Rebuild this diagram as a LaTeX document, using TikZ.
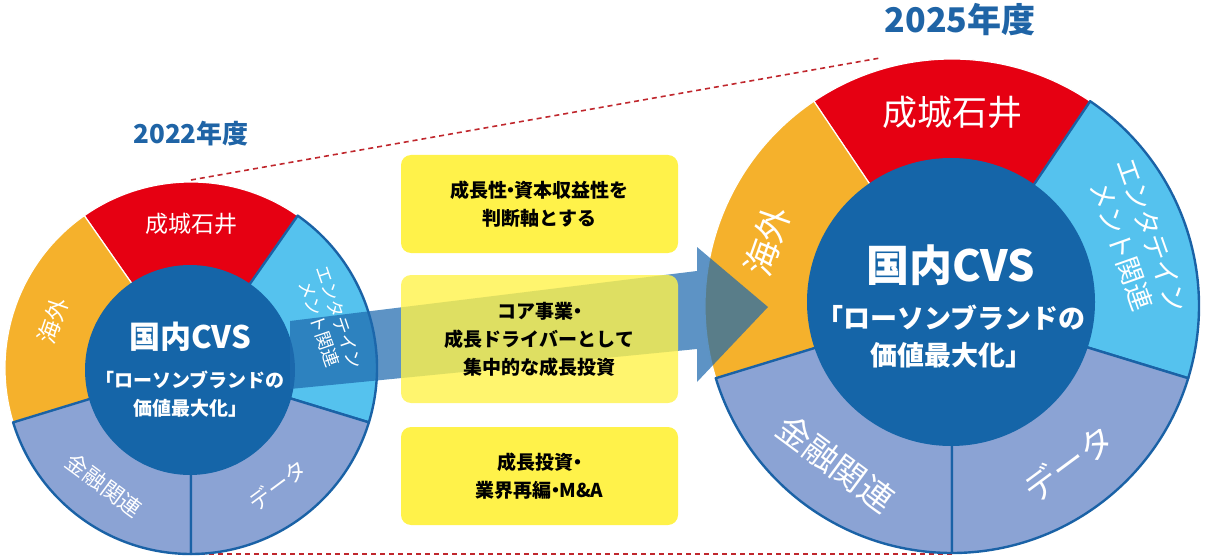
\documentclass[tikz,border=0pt]{standalone}
\usepackage{fontspec}
\setmainfont{Noto Sans CJK JP}
\usetikzlibrary{calc}
\definecolor{cRed}{HTML}{E60012}
\definecolor{cOra}{HTML}{F5B12C}
\definecolor{cLb}{HTML}{55C2EE}
\definecolor{cPer}{HTML}{8BA3D4}
\definecolor{cDk}{HTML}{1565A8}
\definecolor{cLine}{HTML}{1A62A6}
\definecolor{cYear}{HTML}{1F64A6}
\definecolor{cYel}{HTML}{FFF24A}
\definecolor{cArr}{HTML}{1E6AAE}
\definecolor{cDash}{HTML}{C0272D}
\newcommand{\fsz}[2]{\fontsize{#1}{#2}\selectfont}
\newcommand{\md}{\kern-0.3em・\kern-0.3em}
\newcommand{\segm}[6]{\path[#6] ($#1+(#4:#3)$) arc[start angle=#4,end angle=#5,radius=#3] -- ($#1+(#5:#2)$) arc[start angle=#5,end angle=#4,radius=#2] -- cycle;}
\tikzset{
 wseg/.style={draw=white,line width=1.2pt},
 bseg/.style={draw=cLine,line width=2.4pt,line join=round},
 lab/.style={text=white,inner sep=0pt,align=center},
 ybox/.style={fill=cYel,rounded corners=10pt,minimum width=277pt,inner sep=0pt},
 btxt/.style={font=\bfseries\fsz{19}{28},align=center,text=black},
 dsh/.style={draw=cDash,line width=1.6pt,dash pattern=on 5pt off 4pt},
}
\begin{document}
\begin{tikzpicture}[x=1pt,y=1pt]
\useasboundingbox (0,0) rectangle (1216,558);
\coordinate (L) at (191,190);
\coordinate (R) at (952,252);
\coordinate (d1) at (191,378);
\coordinate (d2) at (880,500);
\coordinate (d3) at (191,4);
\coordinate (d4) at (952,4);
\draw[dsh] (d1) -- (d2);
\draw[dsh] (d3) -- (d4);
% left ring
\segm{(L)}{90}{186}{55}{125}{fill=cRed,wseg}
\segm{(L)}{90}{186}{125}{197}{fill=cOra,wseg}
\segm{(L)}{90}{186}{-17}{55}{fill=cLb,bseg}
\segm{(L)}{90}{186}{197}{270}{fill=cPer,bseg}
\segm{(L)}{90}{186}{270}{343}{fill=cPer,bseg}
\fill[cDk] (190,188) circle (105);
% right ring
\segm{(R)}{125}{247}{56}{124}{fill=cRed,wseg}
\segm{(R)}{125}{247}{124}{197}{fill=cOra,wseg}
\segm{(R)}{125}{247}{-17}{56}{fill=cLb,bseg}
\segm{(R)}{125}{247}{197}{270}{fill=cPer,bseg}
\segm{(R)}{125}{247}{270}{343}{fill=cPer,bseg}
\fill[cDk] (951,256) circle (144);
% boxes
\node[ybox,minimum height=98pt] (b1) at (539.5,354) {};
\node[ybox,minimum height=98pt] (b3) at (539.5,82) {};
% arrow
\fill[cArr,opacity=0.72] (290,237) -- (697,287) -- (697,311) -- (768,251) -- (697,176) -- (697,209) -- (290,169) -- cycle;
\node[ybox,minimum height=128pt,opacity=0.8] (b2) at (539.5,219) {};
\node[btxt] at (b1) {成長性\md 資本収益性を\\判断軸とする};
\node[btxt] at (b2) {コア事業\md\\成長ドライバーとして\\集中的な成長投資};
\node[btxt] at (b3) {成長投資\md\\業界再編\md M\&A};
% years
\node[text=cYear,font=\bfseries\fsz{26}{30}] (y1) at (191,424) {2022年度};
\node[text=cYear,font=\bfseries\fsz{34}{40}] (y2) at (960,538) {2025年度};
% left labels
\node[lab,font=\fsz{23}{27},rotate=0] at ($(L)+(90:144)$) {成城石井};
\node[lab,font=\fsz{23}{27},rotate=71] at ($(L)+(161:146)$) {海外};
\node[lab,font=\fsz{22}{26},rotate=-36.5] at ($(L)+(233.5:146)$) {金融関連};
\node[lab,font=\fsz{22}{26},rotate=36.5] at ($(L)+(306.5:146)$) {データ};
\node[lab,font=\fsz{18}{21},rotate=-71] at ($(L)+(19:146)$) {エンタテイン\\メント関連};
\node[lab,font=\bfseries\fsz{31}{34}] at (190,221) {国内CVS};
\node[lab,font=\bfseries\fsz{19}{22}] at (190,178) {「ローソンブランドの};
\node[lab,font=\bfseries\fsz{19}{22}] at (190,150) {価値最大化」};
% right labels
\node[lab,font=\fsz{35}{40}] at ($(R)+(90:194)$) {成城石井};
\node[lab,font=\fsz{35}{40},rotate=70.5] at ($(R)+(160.5:196)$) {海外};
\node[lab,font=\fsz{34}{38},rotate=-36.5] at ($(R)+(233.5:196)$) {金融関連};
\node[lab,font=\fsz{34}{38},rotate=36.5] at ($(R)+(306.5:196)$) {データ};
\node[lab,font=\fsz{27}{32},rotate=-70.5] at ($(R)+(19.5:196)$) {エンタテイン\\メント関連};
\node[lab,font=\bfseries\fsz{43}{48}] at (951,293) {国内CVS};
\node[lab,font=\bfseries\fsz{27}{32}] at (951,240) {「ローソンブランドの};
\node[lab,font=\bfseries\fsz{27}{32}] at (951,203) {価値最大化」};
\end{tikzpicture}
\end{document}
